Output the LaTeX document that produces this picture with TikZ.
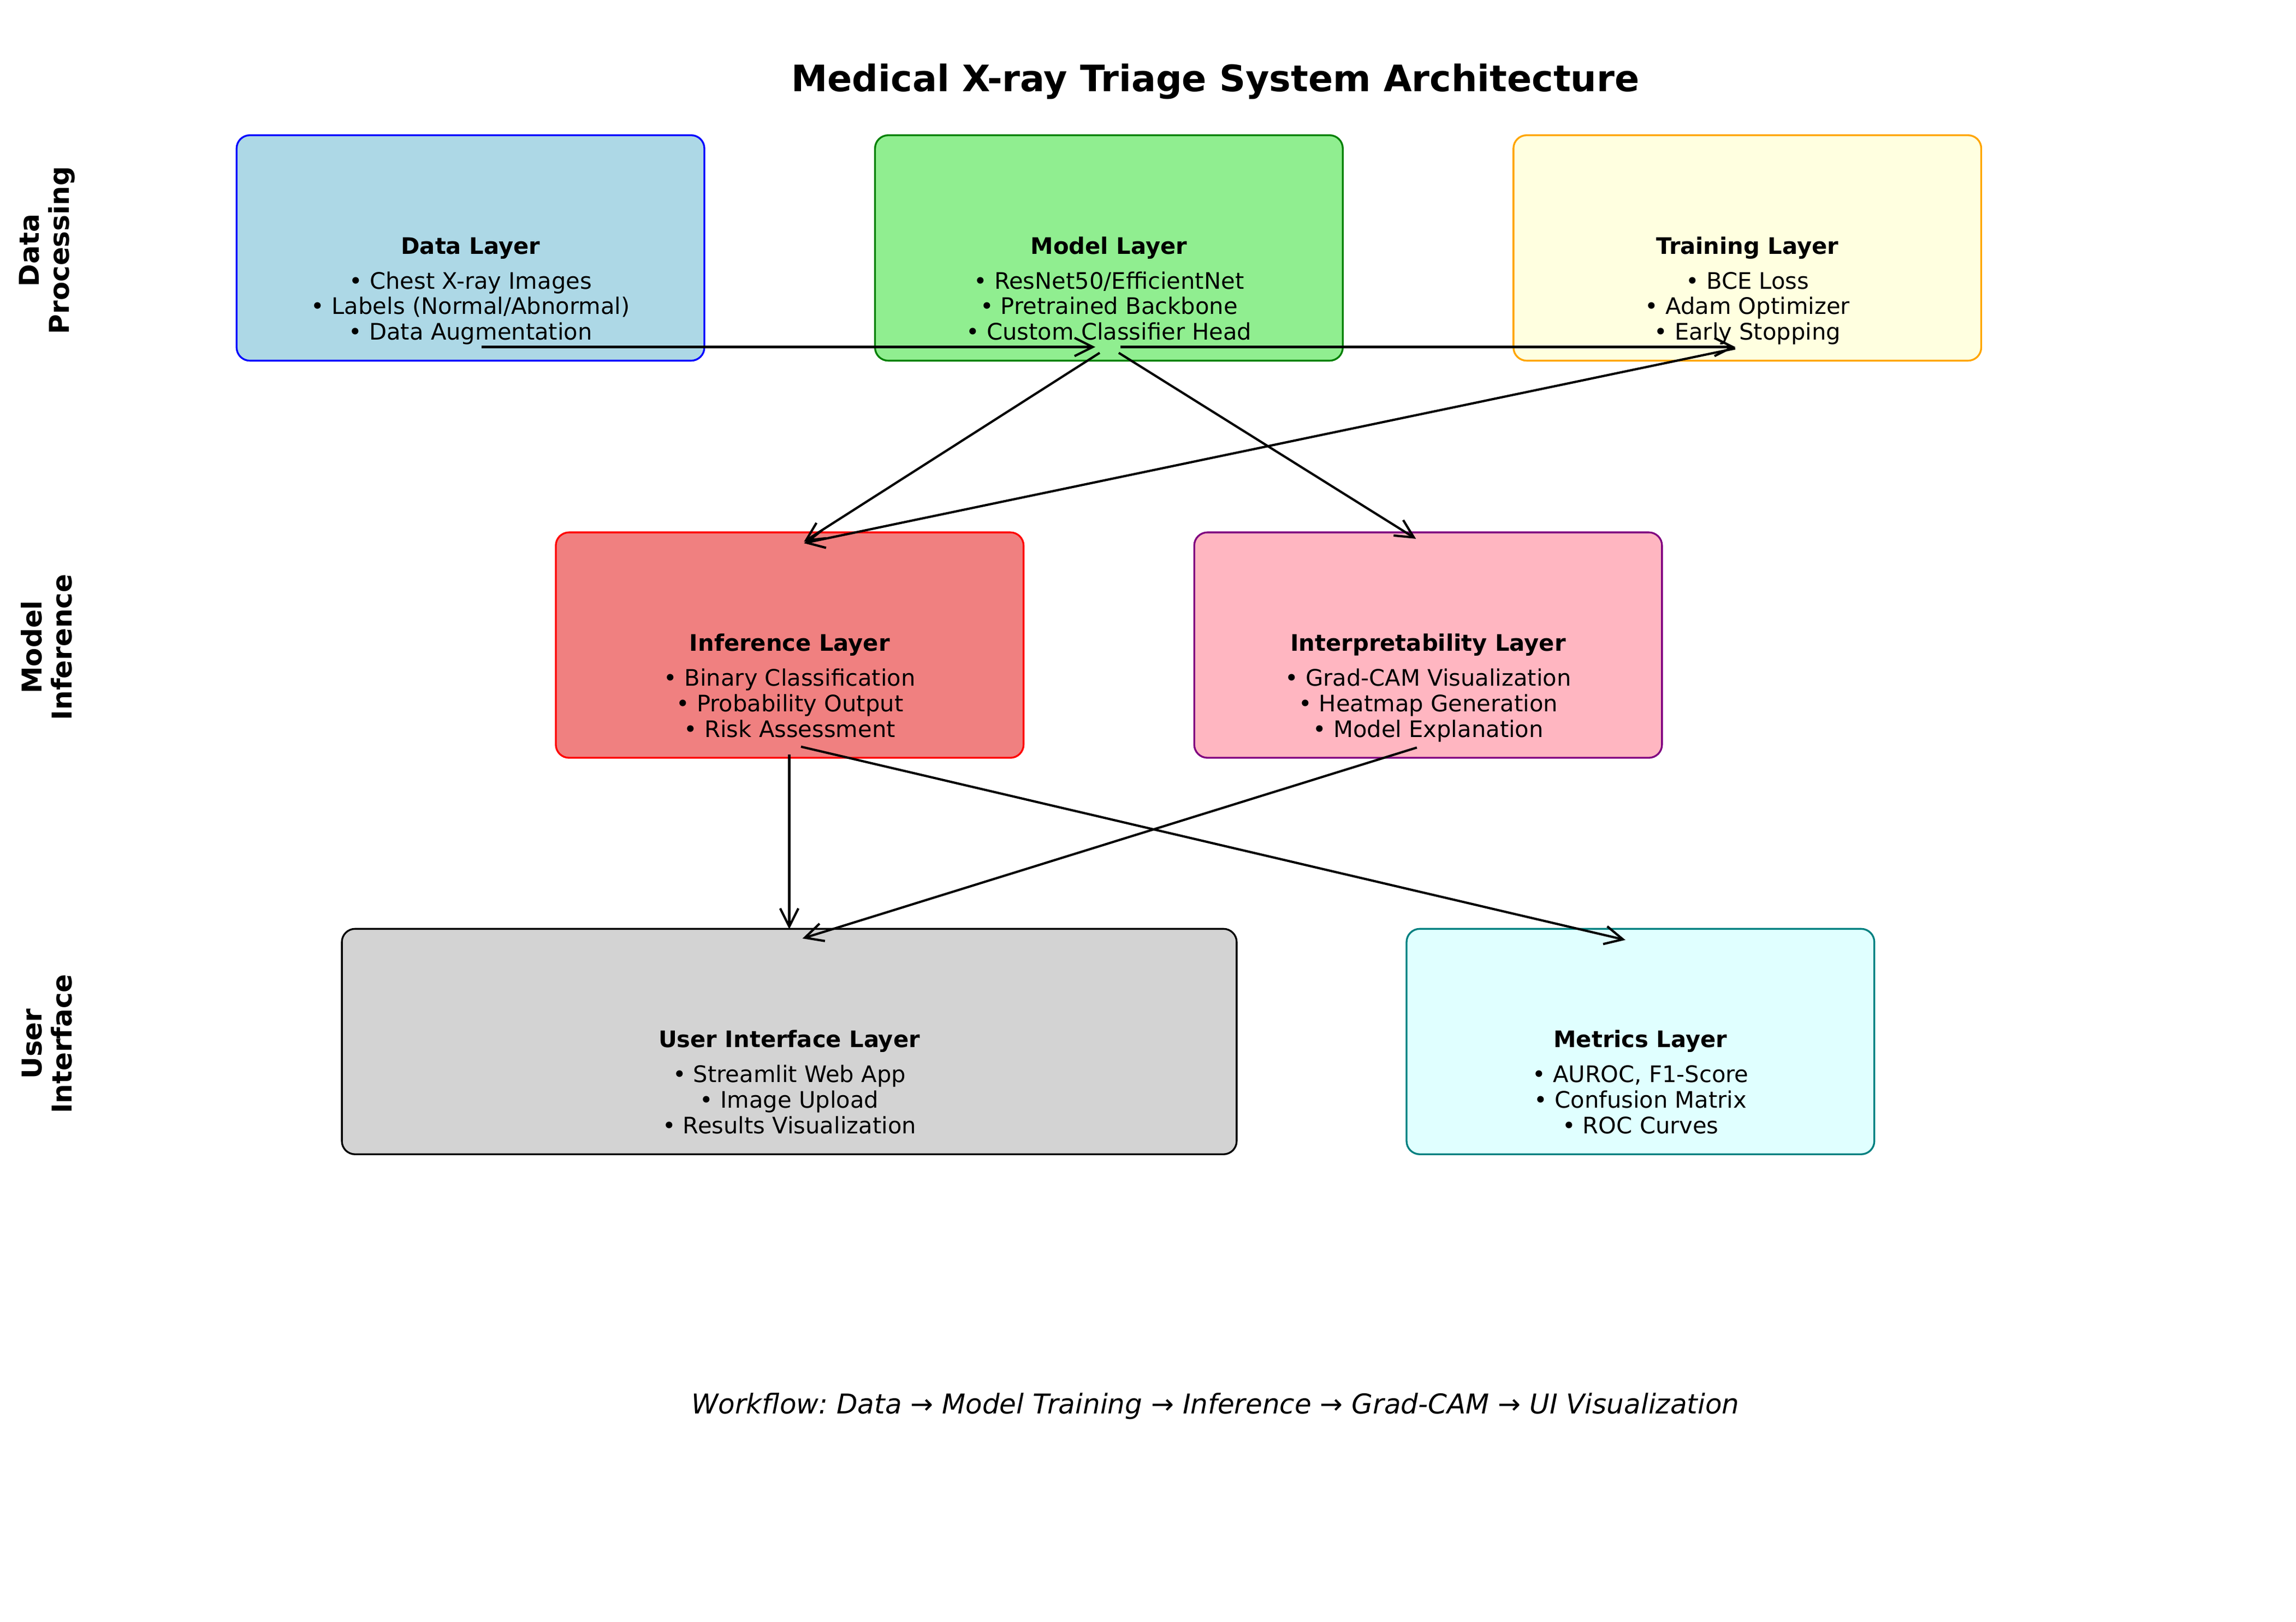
\documentclass[tikz,border=0pt]{standalone}
\usepackage{fontspec}
\setmainfont{DejaVu Sans}
\usetikzlibrary{arrows.meta,calc}
\definecolor{cLightBlue}{HTML}{ADD8E6}
\definecolor{cLightGreen}{HTML}{90EE90}
\definecolor{cGreen}{HTML}{008000}
\definecolor{cLightYellow}{HTML}{FFFFE0}
\definecolor{cOrange}{HTML}{FFA500}
\definecolor{cLightCoral}{HTML}{F08080}
\definecolor{cLightPink}{HTML}{FFB6C1}
\definecolor{cPurple}{HTML}{800080}
\definecolor{cLightGray}{HTML}{D3D3D3}
\definecolor{cLightCyan}{HTML}{E0FFFF}
\definecolor{cTeal}{HTML}{008080}
\frenchspacing
\begin{document}
\begin{tikzpicture}[x=0.643622pt,y=-0.643622pt,
  box/.style={draw, rounded corners=5.8pt, line width=0.8pt, minimum width=205.6pt, minimum height=99.1pt, inner sep=0pt},
  widebox/.style={box, minimum width=393.3pt},
  boxtitle/.style={anchor=base, inner sep=0pt, font=\bfseries\fontsize{10}{12}\selectfont},
  bullets/.style={anchor=base, inner sep=0pt, align=center, font=\fontsize{10}{11.2}\selectfont},
  lanelabel/.style={rotate=90, align=center, inner sep=0pt, font=\bfseries\fontsize{12}{13.2}\selectfont},
  conn/.style={-{Straight Barb[length=8pt,width=8pt]}, line width=1pt}
]
\useasboundingbox (0,0) rectangle (1568,1107.5);

% title
\node[anchor=base, inner sep=0pt, font=\bfseries\fontsize{16}{19}\selectfont] (title) at (830,62.5) {Medical X-ray Triage System Architecture};

% lane labels
\node[lanelabel] (lane1) at (32,171) {Data\\Processing};
\node[lanelabel] (lane2) at (32,442) {Model\\Inference};
\node[lanelabel] (lane3) at (32,713) {User\\Interface};

% boxes
\node[box, fill=cLightBlue, draw=blue] (data) at (321.3,169.35) {};
\node[box, fill=cLightGreen, draw=cGreen] (model) at (757.3,169.35) {};
\node[box, fill=cLightYellow, draw=cOrange] (train) at (1193.3,169.35) {};
\node[box, fill=cLightCoral, draw=red] (infer) at (539.3,440.6) {};
\node[box, fill=cLightPink, draw=cPurple] (interp) at (975.3,440.6) {};
\node[widebox, fill=cLightGray, draw=black] (ui) at (539,711.4) {};
\node[box, fill=cLightCyan, draw=cTeal] (metrics) at (1120.3,711.4) {};

% box texts (bullets anchored at the baseline of their last line)
\node[boxtitle] (data-t) at ($(data.center)+(0,4.1)$) {Data Layer};
\node[bullets] (data-b) at ($(data.center)+(0,62.8)$) {• Chest X-ray Images\\• Labels (Normal/Abnormal)\\• Data Augmentation};
\node[boxtitle] (model-t) at ($(model.center)+(0,4.1)$) {Model Layer};
\node[bullets] (model-b) at ($(model.center)+(0,62.8)$) {• ResNet50/EfficientNet\\• Pretrained Backbone\\• Custom Classifier Head};
\node[boxtitle] (train-t) at ($(train.center)+(0,4.1)$) {Training Layer};
\node[bullets] (train-b) at ($(train.center)+(0,62.8)$) {• BCE Loss\\• Adam Optimizer\\• Early Stopping};
\node[boxtitle] (infer-t) at ($(infer.center)+(0,4.1)$) {Inference Layer};
\node[bullets] (infer-b) at ($(infer.center)+(0,62.8)$) {• Binary Classification\\• Probability Output\\• Risk Assessment};
\node[boxtitle] (interp-t) at ($(interp.center)+(0,4.1)$) {Interpretability Layer};
\node[bullets] (interp-b) at ($(interp.center)+(0,62.8)$) {• Grad-CAM Visualization\\• Heatmap Generation\\• Model Explanation};
\node[boxtitle] (ui-t) at ($(ui.center)+(0,4.1)$) {User Interface Layer};
\node[bullets] (ui-b) at ($(ui.center)+(0,62.8)$) {• Streamlit Web App\\• Image Upload\\• Results Visualization};
\node[boxtitle] (metrics-t) at ($(metrics.center)+(0,4.1)$) {Metrics Layer};
\node[bullets] (metrics-b) at ($(metrics.center)+(0,62.8)$) {• AUROC, F1-Score\\• Confusion Matrix\\• ROC Curves};

% workflow
\node[anchor=base, inner sep=0pt, font=\itshape\fontsize{12}{14}\selectfont] (workflow) at (830,965.5) {Workflow: Data → Model Training → Inference → Grad-CAM → UI Visualization};

% connector end points
\coordinate (dataOut) at (329,237);
\coordinate (modelIn) at (748,237);
\coordinate (modelOutR) at (765,237);
\coordinate (trainIn) at (1185,237);
\coordinate (modelOutL) at (751,241);
\coordinate (modelOutD) at (764,241);
\coordinate (inferIn) at (549,370);
\coordinate (interpIn) at (967,368);
\coordinate (trainOut) at (1185,238);
\coordinate (inferIn2) at (549,371);
\coordinate (inferOutD) at (539,515.5);
\coordinate (uiIn) at (539,634.6);
\coordinate (inferOutR) at (547,510);
\coordinate (metricsIn) at (1110,642);
\coordinate (interpOut) at (967.6,510.6);
\coordinate (uiIn2) at (548,641);

% connectors
\draw[conn] (dataOut) -- (modelIn);
\draw[conn] (modelOutR) -- (trainIn);
\draw[conn] (modelOutL) -- (inferIn);
\draw[conn] (modelOutD) -- (interpIn);
\draw[conn] (trainOut) -- (inferIn2);
\draw[conn] (inferOutD) -- (uiIn);
\draw[conn] (inferOutR) -- (metricsIn);
\draw[conn] (interpOut) -- (uiIn2);
\end{tikzpicture}
\end{document}
